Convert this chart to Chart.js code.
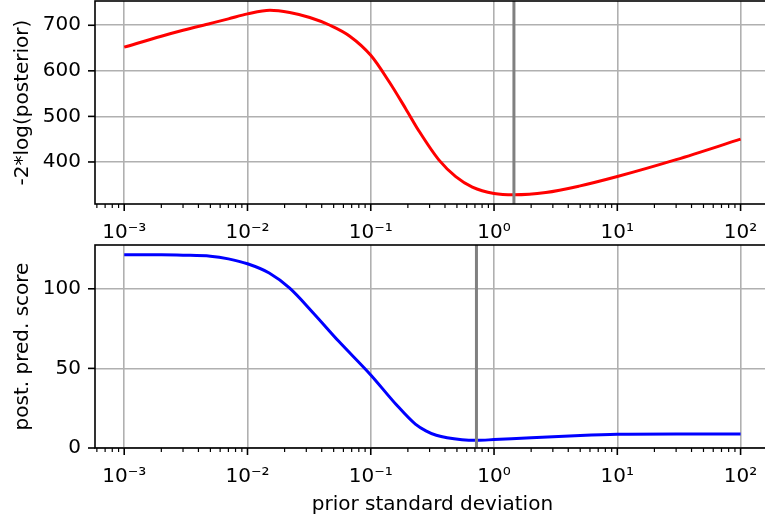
<!DOCTYPE html>
<html>
<head>
<meta charset="UTF-8">
<title>prior sd scan</title>
<script src="https://cdn.jsdelivr.net/npm/chart.js@4.4.0/dist/chart.umd.min.js"></script>
<style>
  html, body { margin: 0; padding: 0; overflow: hidden; background: #fff; width: 765px; height: 521px; }
  .panel { position: absolute; left: 0; width: 800px; }
  #top { top: 0; height: 240px; }
  #bottom { top: 240px; height: 281px; }
</style>
</head>
<body>
<div class="panel" id="top"><canvas id="chartTop" width="800" height="240"></canvas></div>
<div class="panel" id="bottom"><canvas id="chartBottom" width="800" height="281"></canvas></div>
<script>
// top panel: -2*log(posterior) vs prior sd
const priorSd    = [0.001, 0.002, 0.003, 0.005, 0.007, 0.01, 0.0152, 0.022, 0.032, 0.0467, 0.0676, 0.1, 0.141, 0.192, 0.246, 0.358, 0.489, 0.667, 1.0, 1.45, 2.63, 4.9, 10, 30, 100];
const negLogPost = [652, 676, 689, 704, 714, 725, 733, 728, 717, 700, 676, 634, 576, 517, 468, 404, 368, 345, 331, 328, 333, 347, 368, 405, 450];

// bottom panel: posterior predictive score vs prior sd
const predSd    = [0.001, 0.002, 0.003, 0.005, 0.007, 0.01, 0.015, 0.022, 0.034, 0.055, 0.1, 0.16, 0.23, 0.28, 0.34, 0.55, 0.73, 1.0, 2.0, 5, 10, 30, 100];
const predScore = [121.3, 121.3, 121.1, 120.5, 118.8, 115.7, 109.9, 100.4, 85, 67, 45.9, 27.5, 15, 10.8, 8, 5.2, 4.8, 5.3, 6.5, 7.9, 8.6, 8.8, 8.8];

// vertical markers (best prior sd)
const bestSdTop = 1.45;
const bestSdBottom = 0.72;

// axes
const xDecades = [1e-4, 1e-3, 1e-2, 1e-1, 1, 10, 100];
const xMinorSteps = [2, 3, 4, 5, 6, 7, 8, 9];
const labelDecades = [1e-3, 1e-2, 1e-1, 1, 10, 100];
const decadeLabels = ['10⁻³', '10⁻²', '10⁻¹', '10⁰', '10¹', '10²'];
const yTicksTop = [400, 500, 600, 700];
const yTicksBottom = [0, 50, 100];
const yRangeTop = [307.75, 753.25];
const yRangeBottom = [0, 127.5];

const X_MIN = Math.pow(10, -3.237);
const X_MAX = Math.pow(10, 2.237);
const FONT = { family: "'DejaVu Sans', sans-serif", size: 20 };

const xTicks = [];
xDecades.forEach(d => {
  [1].concat(xMinorSteps).forEach(m => {
    const v = d * m;
    if (v >= X_MIN && v <= X_MAX) xTicks.push(v);
  });
});

function isDecade(v) {
  const l = Math.log10(v);
  return Math.abs(l - Math.round(l)) < 1e-9;
}

function xLabel(v) {
  const i = labelDecades.findIndex(d => Math.abs(d - v) / d < 1e-6);
  return i >= 0 ? decadeLabels[i] : '';
}

// spines + tick marks, drawn over the data like matplotlib does
const frame = {
  id: 'frame',
  afterDatasetsDraw(chart) {
    const { ctx, chartArea: a, scales: { x, y } } = chart;
    ctx.save();
    ctx.strokeStyle = '#000';
    x.ticks.forEach(t => {
      const major = isDecade(t.value);
      const px = x.getPixelForValue(t.value);
      ctx.lineWidth = major ? 1.6 : 1.2;
      ctx.beginPath();
      ctx.moveTo(px, a.bottom);
      ctx.lineTo(px, a.bottom + (major ? 7 : 4));
      ctx.stroke();
    });
    ctx.lineWidth = 1.6;
    y.ticks.forEach(t => {
      const py = y.getPixelForValue(t.value);
      ctx.beginPath();
      ctx.moveTo(a.left - 7, py);
      ctx.lineTo(a.left, py);
      ctx.stroke();
    });
    ctx.strokeRect(a.left, a.top, a.right - a.left, a.bottom - a.top);
    ctx.restore();
  }
};

function xScale(height, title) {
  return {
    type: 'logarithmic',
    min: X_MIN,
    max: X_MAX,
    afterBuildTicks: s => { s.ticks = xTicks.map(v => ({ value: v, major: isDecade(v) })); },
    afterFit: s => { s.height = height; },
    ticks: { autoSkip: false, maxRotation: 0, minRotation: 0, padding: 16.5, color: '#000', font: FONT, callback: v => xLabel(v) },
    grid: { drawTicks: false, lineWidth: 1.6, color: c => isDecade(c.tick.value) ? '#b0b0b0' : 'rgba(0,0,0,0)' },
    border: { display: false },
    title: title ? { display: true, text: title, color: '#000', font: FONT, padding: { top: 0, bottom: 4 } } : { display: false }
  };
}

function yScale(range, ticks, title) {
  return {
    min: range[0],
    max: range[1],
    afterBuildTicks: s => { s.ticks = ticks.map(v => ({ value: v })); },
    afterFit: s => { s.width = 95; },
    // tiny lineHeight keeps chart.js from padding the plot top for the labels
    ticks: { padding: 0, color: '#000', font: { ...FONT, lineHeight: 0.01 } },
    grid: { color: '#b0b0b0', lineWidth: 1.6, tickLength: 14, tickColor: 'rgba(0,0,0,0)' },
    border: { display: false },
    title: { display: true, text: title, color: '#000', font: FONT, padding: { top: 11, bottom: 0 } }
  };
}

function makeChart(id, xs, ys, color, best, yRange, yTicks, yTitle, xHeight, xTitle, padTop) {
  return new Chart(document.getElementById(id), {
    type: 'line',
    data: {
      datasets: [
        {
          data: [{ x: best, y: yRange[0] }, { x: best, y: yRange[1] }],
          borderColor: '#808080', borderWidth: 3, pointRadius: 0, order: 0
        },
        {
          data: xs.map((s, i) => ({ x: s, y: ys[i] })),
          borderColor: color, borderWidth: 3, pointRadius: 0,
          cubicInterpolationMode: 'monotone', order: 1
        }
      ]
    },
    options: {
      responsive: false,
      animation: false,
      layout: { padding: { left: 0, top: padTop, right: 30.2, bottom: 0 } },
      plugins: { legend: { display: false }, tooltip: { enabled: false } },
      scales: {
        x: xScale(xHeight, xTitle),
        y: yScale(yRange, yTicks, yTitle)
      }
    },
    plugins: [frame]
  });
}

makeChart('chartTop', priorSd, negLogPost, '#ff0000', bestSdTop,
  yRangeTop, yTicksTop, '-2*log(posterior)', 36, null, 1);
makeChart('chartBottom', predSd, predScore, '#0000ff', bestSdBottom,
  yRangeBottom, yTicksBottom, 'post. pred. score', 73, 'prior standard deviation', 5);
</script>
</body>
</html>
